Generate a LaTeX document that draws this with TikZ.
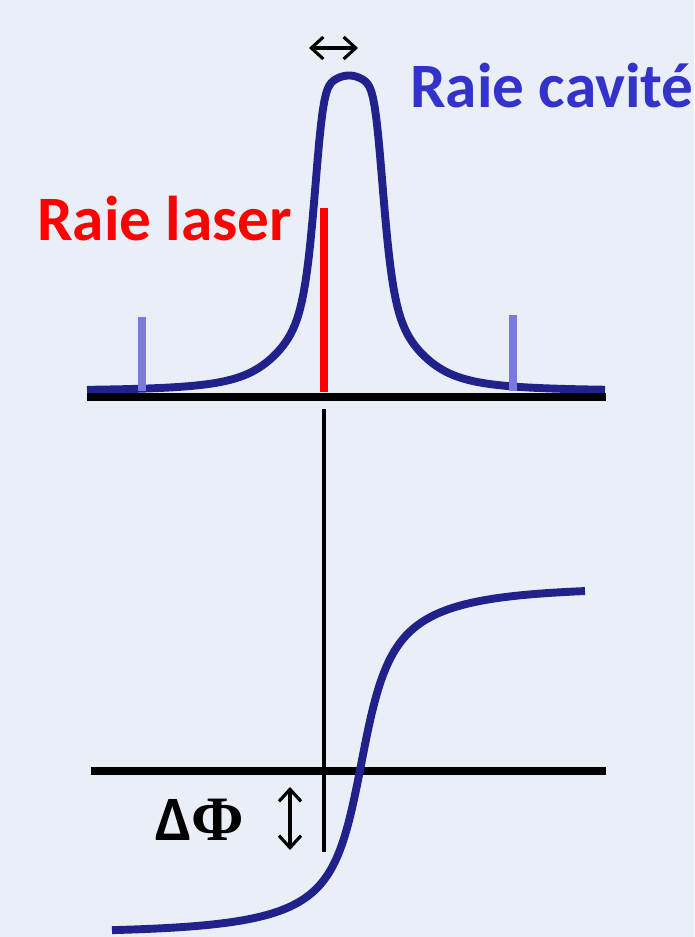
\documentclass[tikz,border=0pt]{standalone}
\usepackage{fontspec}
\setmainfont{Carlito}
\newfontfamily\grecSerif{Liberation Serif}
\usepackage{tikz}
\usetikzlibrary{arrows.meta}
\definecolor{fondPage}{RGB}{234,239,247}
\definecolor{bleuRaie}{RGB}{33,33,139}
\definecolor{bleuTexte}{RGB}{51,51,204}
\definecolor{bleuMode}{RGB}{122,122,222}

\begin{document}
\begin{tikzpicture}[
    x=0.02cm, y=-0.02cm,
    axe/.style={line width=4.5pt},
    courbe/.style={line width=4.5pt, draw=bleuRaie},
    mode/.style={line width=4pt, draw=bleuMode},
    fleche/.style={line width=1.8pt, {Straight Barb[length=2.4mm,width=4.4mm]}-{Straight Barb[length=2.4mm,width=4.4mm]}},
    etiquette/.style={font=\bfseries\fontsize{36}{40}\selectfont, inner sep=0pt, anchor=base west}
]
    \fill[fondPage] (0,0) rectangle (694,937);
    \useasboundingbox (0,0) rectangle (694,937);

    % raie de la cavite
    \draw[courbe] plot[domain=87:605, samples=300]
        (\x, {391 - 315.5/(1 + 0.1*((\x-349)/38.5)^2
              + pow(abs(\x-349)/38.5 + 0.001, 2.9 + 6*exp(-((\x-349)/38.5)^2)))});
    \draw[mode] (142,391) -- (142,317);
    \draw[mode] (513,391) -- (513,315);
    \draw[line width=4pt, red] (324,392) -- (324,208);
    \draw[axe] (87,397) -- (606,397);

    % largeur de raie
    \coordinate (largG) at (309,48);
    \coordinate (largD) at (358,48);
    \draw[fleche] (largG) -- (largD);

    \node[etiquette, text=bleuTexte] (cavite) at (410,107) {Raie cavité};
    \node[etiquette, text=red] (laser) at (37,240) {Raie laser};

    % signal de phase
    \draw[line width=2.2pt] (324,409) -- (324,852);
    \draw[axe] (91,771) -- (606,771);
    \draw[courbe] plot[domain=112:585, samples=300]
        (\x, {765 - (\x<361 ? 168 : 178)*atan((\x-361)/(\x<361 ? 21 : 22)*(1+((\x-361)/170)^2))/90});

    \coordinate (phiH) at (290,787);
    \coordinate (phiB) at (290,850);
    \draw[fleche] (phiH) -- (phiB);
    \node[etiquette] (dphi) at (155,840) {Δ{\grecSerif Φ}};
\end{tikzpicture}
\end{document}
